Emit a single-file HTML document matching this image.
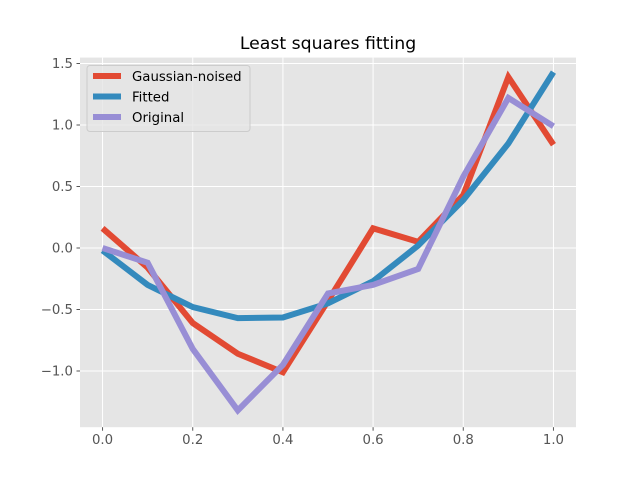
<!DOCTYPE html>
<html><head><meta charset="utf-8"><style>body{margin:0;background:#fff}svg{display:block}text{font-family:"DejaVu Sans","Liberation Sans",sans-serif}</style></head>
<body>
<svg id="chart" width="640" height="480" xmlns="http://www.w3.org/2000/svg"></svg>
<script>
const xValues=[0,0.1,0.2,0.3,0.4,0.5,0.6,0.7,0.8,0.9,1.0];
const noisedValues=[0.16,-0.16,-0.61,-0.86,-1.01,-0.43,0.16,0.05,0.43,1.39,0.84];
const fittedValues=[-0.02,-0.30,-0.48,-0.57,-0.565,-0.45,-0.27,0.02,0.39,0.85,1.43];
const originalValues=[0,-0.12,-0.82,-1.32,-0.95,-0.37,-0.30,-0.17,0.58,1.22,0.99];
const xTicks=[0,0.2,0.4,0.6,0.8,1.0];
const xTickLabels=["0.0","0.2","0.4","0.6","0.8","1.0"];
const yTicks=[1.5,1.0,0.5,0,-0.5,-1.0];
const yTickLabels=["1.5","1.0","0.5","0.0","\u22120.5","\u22121.0"];
const seriesNames=["Gaussian-noised","Fitted","Original"];
const L=80,R=576,T=57.6,B=427.2,xmin=-0.05,xmax=1.05,ymin=-1.457,ymax=1.548;
const sx=v=>L+(v-xmin)/(xmax-xmin)*(R-L);
const sy=v=>B-(v-ymin)/(ymax-ymin)*(B-T);
const svg=document.getElementById('chart');const NS="http://www.w3.org/2000/svg";
function mk(t,a,p){const e=document.createElementNS(NS,t);for(const k in a)e.setAttribute(k,a[k]);(p||svg).appendChild(e);return e;}
let e=mk('rect',{x:L,y:T,width:R-L,height:B-T,fill:'#E5E5E5'});


xTicks.forEach((v,i)=>{
 let g=mk('line',{x1:sx(v),x2:sx(v),y1:T,y2:B,stroke:'#fff','stroke-width':1});
 
 
 let tk=mk('line',{x1:sx(v),x2:sx(v),y1:B,y2:B+3.5,stroke:'#555'});
 
 
 let t=mk('text',{x:sx(v),y:B+17,'text-anchor':'middle','font-size':'13.3',fill:'#555'});t.textContent=xTickLabels[i];
 
 
});
yTicks.forEach((v,i)=>{
 let g=mk('line',{x1:L,x2:R,y1:sy(v),y2:sy(v),stroke:'#fff','stroke-width':1});
 
 
 let tk=mk('line',{x1:L-3.5,x2:L,y1:sy(v),y2:sy(v),stroke:'#555'});
 
 
 let t=mk('text',{x:L-7,y:sy(v)+4.5,'text-anchor':'end','font-size':'13.3',fill:'#555'});t.textContent=yTickLabels[i];
 
 
});
const colors=['#E24A33','#348ABD','#988ED5'];
[noisedValues,fittedValues,originalValues].forEach((vals,k)=>{
 const d=vals.map((v,i)=>(i?'L':'M')+sx(xValues[i])+' '+sy(v)).join(' ');
 let p=mk('path',{d:d,fill:'none',stroke:colors[k],'stroke-width':6});
 
 
});
let tt=mk('text',{x:(L+R)/2,y:49,'text-anchor':'middle','font-size':'17.3',fill:'#000'});tt.textContent='Least squares fitting';


const lg=mk('g',{});


mk('rect',{x:87,y:65.5,width:163,height:66,rx:3,fill:'#E5E5E5',stroke:'#CCCCCC','stroke-width':1,'fill-opacity':0.8},lg);
seriesNames.forEach((n,k)=>{
 const y=76+k*20.5;
 let ln=mk('line',{x1:93,x2:121,y1:y,y2:y,stroke:colors[k],'stroke-width':6},lg);
 
 
 let t=mk('text',{x:132,y:y+5,'font-size':'13.3',fill:'#000'},lg);t.textContent=n;
 
 
});
</script>
</body></html>
